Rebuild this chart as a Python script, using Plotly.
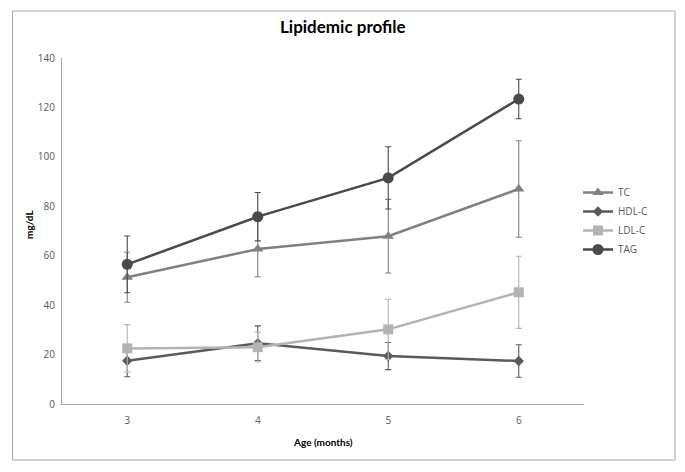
import plotly.graph_objects as go

ages = ["3", "4", "5", "6"]
tc = [51.3, 62.7, 67.9, 87.0]
tc_err = [10.1, 11.2, 14.9, 19.5]
hdl = [17.5, 24.6, 19.4, 17.4]
hdl_err = [6.5, 7.0, 5.5, 6.6]
ldl = [22.5, 23.0, 30.2, 45.2]
ldl_err = [9.6, 6.0, 12.2, 14.6]
tag = [56.5, 75.8, 91.5, 123.4]
tag_err = [11.5, 9.8, 12.6, 8.0]

series = [
    ("TC", tc, tc_err, "#808080", "triangle-up", 10),
    ("HDL-C", hdl, hdl_err, "#5a5a5a", "diamond", 8),
    ("LDL-C", ldl, ldl_err, "#b3b3b3", "square", 10),
    ("TAG", tag, tag_err, "#4a4a4a", "circle", 11),
]

fig = go.Figure()
for name, vals, errs, col, sym, sz in series:
    fig.add_trace(go.Scatter(
        x=ages, y=vals, name=name, mode="lines+markers",
        line=dict(color=col, width=2.5),
        marker=dict(symbol=sym, size=sz, color=col),
        error_y=dict(type="data", array=errs, visible=True, color=col,
                     thickness=1.1, width=3),
    ))

OFF = 8  # page body margin
W, H = 685, 472
L, T = 62 - OFF, 58 - OFF
pw, ph = 522, 346
R, B = W - L - pw, H - T - ph

def px(x):
    return (x - OFF - L) / pw

def py(y):
    return (T + ph - (y - OFF)) / ph

fig.update_layout(
    width=W, height=H,
    margin=dict(l=L, r=R, t=T, b=B, autoexpand=False),
    paper_bgcolor="white", plot_bgcolor="white",
    font=dict(family="Open Sans", color="#595959", size=10),
    showlegend=True,
    legend=dict(x=px(578), y=py(178), xanchor="left", yanchor="top",
                font=dict(size=10, color="#595959"), tracegroupgap=0,
                bgcolor="rgba(0,0,0,0)"),
    xaxis=dict(type="category", range=[-0.5, 3.5], showgrid=False, showline=True,
               linecolor="#a6a6a6", linewidth=1, ticks="", ticklabelstandoff=7,
               tickfont=dict(size=10, color="#595959"), zeroline=False),
    yaxis=dict(range=[0, 140], dtick=20, showgrid=False, showline=True,
               linecolor="#a6a6a6", linewidth=1, ticks="", ticklabelstandoff=4,
               tickfont=dict(size=10, color="#595959"), zeroline=False),
    shapes=[dict(type="rect", xref="paper", yref="paper",
                 x0=px(12.5), x1=px(675), y0=py(460), y1=py(11),
                 line=dict(color="#a6a6a6", width=1), layer="below")],
    annotations=[
        dict(text="<b>Lipidemic profile</b>", xref="paper", yref="paper",
             x=px(343), y=py(27), showarrow=False,
             font=dict(family="Lato", size=17, color="#000000"),
             xanchor="center", yanchor="middle"),
        dict(text="<b>Age (months)</b>", xref="paper", yref="paper",
             x=px(323), y=py(442), showarrow=False,
             font=dict(family="Lato", size=10, color="#000000"),
             xanchor="center", yanchor="middle"),
        dict(text="<b>mg/dL</b>", xref="paper", yref="paper",
             x=px(29), y=py(225), showarrow=False, textangle=-90,
             font=dict(family="Lato", size=10, color="#000000"),
             xanchor="center", yanchor="middle"),
    ],
)

fig.write_html("out.html")
